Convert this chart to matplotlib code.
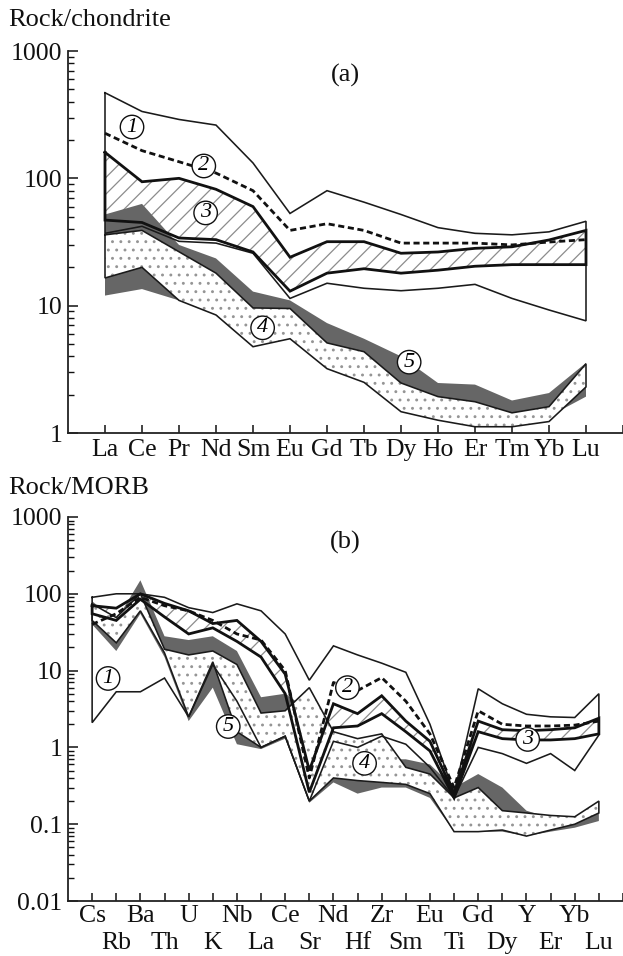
import numpy as np
import matplotlib
matplotlib.use('Agg')
import matplotlib.pyplot as plt
from matplotlib.ticker import FixedLocator, FixedFormatter, LogLocator, NullFormatter

plt.rcParams['font.family'] = ['Liberation Serif', 'DejaVu Serif']
plt.rcParams['hatch.linewidth'] = 0.9

# ---------------- panel (a): chondrite-normalised REE ----------------
ree = ['La', 'Ce', 'Pr', 'Nd', 'Sm', 'Eu', 'Gd', 'Tb', 'Dy', 'Ho', 'Er', 'Tm', 'Yb', 'Lu']
a_f1_up = [470, 335, 290, 262, 132, 53, 80, 65, 52, 41, 37, 36, 38, 46]
a_f1_lo = [37, 42, 32, 31, 25.8, 11.4, 15, 13.7, 13.1, 13.7, 14.7, 11.4, 9.25, 7.6]
a_f2 = [226, 165, 135, 110, 80, 39, 44, 39, 31, 31, 31, 30, 31.6, 33]
a_f3_up = [160, 94, 100, 82, 60, 24, 31.8, 31.8, 25.8, 26.4, 28.2, 29, 32.8, 39]
a_f3_lo = [47, 45, 34, 33, 26.4, 13, 18, 19.5, 18, 19, 20.4, 21, 21, 21]
a_f4_up = [36, 39, 26.5, 18, 9.6, 9.5, 5.1, 4.35, 2.47, 1.93, 1.76, 1.44, 1.61, 3.5]
a_f4_lo = [16.5, 20, 11, 8.45, 4.76, 5.5, 3.2, 2.5, 1.47, 1.26, 1.12, 1.12, 1.23, 2.3]
a_f5_up = [52, 63, 30, 23.5, 12.9, 11, 7.3, 5.5, 4.0, 2.47, 2.4, 1.8, 2.06, 3.55]
a_f5_lo = [12, 13.5, 11, 8.5, 5, 5.5, 3.5, 2.8, 1.7, 1.4, 1.3, 1.25, 1.35, 1.93]
a_lab_x = [0.73, 2.67, 2.72, 4.26, 8.22]
a_lab_y = [253, 125, 53.5, 6.7, 3.6]

# ---------------- panel (b): MORB-normalised spidergram ----------------
spider = ['Cs', 'Rb', 'Ba', 'Th', 'U', 'K', 'Nb', 'La', 'Ce', 'Sr', 'Nd',
          'Hf', 'Zr', 'Sm', 'Eu', 'Ti', 'Gd', 'Dy', 'Y', 'Er', 'Yb', 'Lu']
b_f1_up = [90, 100, 100, 90, 66, 57, 74, 60, 30, 7.5, 21, 16, 12.5, 9.5, 2.0, 0.25, 5.8, 3.7, 2.7, 2.5, 2.45, 5.0]
b_f1_lo = [2.1, 5.3, 5.3, 8, 2.5, 12, 4, 1.0, 1.4, 0.2, 1.2, 1.0, 1.4, 1.1, 0.55, 0.22, 1.0, 0.83, 0.62, 0.83, 0.5, 1.45]
b_f2 = [40, 55, 90, 70, 60, 45, 30, 25, 10, 0.4, 7, 5.5, 8.1, 4, 1.5, 0.3, 3.0, 2.0, 1.9, 1.9, 1.95, 2.2]
b_f3_up = [70, 65, 100, 75, 60, 41, 45, 24, 9, 0.5, 3.7, 2.75, 4.7, 2.2, 1.2, 0.25, 2.2, 1.7, 1.65, 1.7, 1.8, 2.4]
b_f3_lo = [55, 45, 85, 50, 30, 36, 24, 15, 5, 0.26, 1.8, 1.9, 2.75, 1.6, 0.9, 0.22, 1.6, 1.3, 1.25, 1.25, 1.3, 1.5]
b_f4_up = [74, 49, 100, 19, 16, 18, 12, 2.8, 3.0, 6, 1.6, 1.3, 1.5, 0.55, 0.45, 0.22, 0.3, 0.15, 0.14, 0.13, 0.125, 0.2]
b_f4_lo = [45, 23, 60, 17, 2.5, 13, 1.6, 1.0, 1.4, 0.2, 0.4, 0.37, 0.35, 0.33, 0.25, 0.08, 0.08, 0.084, 0.07, 0.084, 0.1, 0.14]
b_f5_up = [80, 45, 150, 28, 25, 28, 18, 4.5, 5, 3, 1.0, 0.5, 0.7, 0.7, 0.6, 0.3, 0.45, 0.3, 0.15, 0.12, 0.12, 0.2]
b_f5_lo = [40, 18, 55, 15, 2.2, 6, 1.1, 0.95, 1.3, 0.19, 0.35, 0.25, 0.3, 0.3, 0.22, 0.08, 0.08, 0.08, 0.07, 0.08, 0.09, 0.11]
b_lab_x = [0.66, 10.58, 18.05, 11.29, 5.64]
b_lab_y = [7.9, 6.0, 1.27, 0.62, 1.87]

labels = ['1', '2', '3', '4', '5']

FS = 19
TFS = 18.5
W, H = 623, 956
fig = plt.figure(figsize=(W / 100, H / 100), dpi=100)
axa = fig.add_axes([68 / W, 1 - 433 / H, (W - 68) / W, (433 - 51) / H])
axb = fig.add_axes([68 / W, 1 - 901 / H, (W - 68) / W, (901 - 517) / H])


def outline(ax, x, up, lo, **kw):
    xs = np.concatenate([x, x[::-1], [x[0]]])
    ys = np.concatenate([np.asarray(up, float), np.asarray(lo, float)[::-1], [up[0]]])
    ax.plot(xs, ys, solid_joinstyle='miter', **kw)


def draw_fields(ax, f1u, f1l, f2, f3u, f3l, f4u, f4l, f5u, f5l):
    x = np.arange(len(f1u))
    ax.fill_between(x, f3l, f3u, facecolor='none', edgecolor='#8c8c8c',
                    hatch='//', linewidth=0, zorder=1)
    ax.fill_between(x, f5l, f5u, facecolor='#666666', edgecolor='none',
                    linewidth=0, zorder=2)
    ax.fill_between(x, f4l, f4u, facecolor='white', edgecolor='none',
                    linewidth=0, zorder=3)
    ax.fill_between(x, f4l, f4u, facecolor='none', edgecolor='#959595',
                    hatch='..', linewidth=0, zorder=3.1)
    outline(ax, x, f4u, f4l, color='#1a1a1a', lw=1.15, zorder=4)
    outline(ax, x, f1u, f1l, color='#1a1a1a', lw=1.15, zorder=5)
    outline(ax, x, f3u, f3l, color='#111111', lw=2.0, zorder=5)
    ax.plot(x, f2, color='#111111', lw=2.0, dashes=(2.2, 1.3), zorder=6)


def style(ax, n, ymin, ymax, yticks, ylabels):
    ax.set_yscale('log')
    ax.set_ylim(ymin, ymax)
    ax.set_xlim(-1, n)
    for s in ['top', 'right']:
        ax.spines[s].set_visible(False)
    for s in ['left', 'bottom']:
        ax.spines[s].set_linewidth(1.3)
        ax.spines[s].set_color('#222222')
    ax.yaxis.set_major_locator(FixedLocator(yticks))
    ax.yaxis.set_major_formatter(FixedFormatter(ylabels))
    ax.yaxis.set_minor_locator(LogLocator(base=10, subs=np.arange(2, 10), numticks=20))
    ax.yaxis.set_minor_formatter(NullFormatter())
    ax.tick_params(axis='y', which='major', direction='in', length=7, width=1.1,
                   labelsize=TFS, pad=4, colors='#111111')
    ax.tick_params(axis='y', which='minor', direction='in', length=4, width=1.0,
                   colors='#111111')


def circ_labels(ax, xs, ys):
    for lx, ly, t in zip(xs, ys, labels):
        ax.text(lx, ly, t, fontsize=16, style='italic', ha='center', va='center',
                zorder=8,
                bbox=dict(boxstyle='circle,pad=0.1', facecolor='white',
                          edgecolor='#111111', linewidth=1.0))


# ---- panel a ----
draw_fields(axa, a_f1_up, a_f1_lo, a_f2, a_f3_up, a_f3_lo, a_f4_up, a_f4_lo, a_f5_up, a_f5_lo)
style(axa, len(ree), 1, 1000, [1, 10, 100, 1000], ['1', '10', '100', '1000'])
axa.xaxis.set_major_locator(FixedLocator(list(range(len(ree) + 1))))
axa.xaxis.set_major_formatter(FixedFormatter(ree + ['']))
axa.tick_params(axis='x', which='major', direction='in', length=6, width=1.1,
                labelsize=TFS, pad=4, colors='#111111')
circ_labels(axa, a_lab_x, a_lab_y)

# ---- panel b ----
draw_fields(axb, b_f1_up, b_f1_lo, b_f2, b_f3_up, b_f3_lo, b_f4_up, b_f4_lo, b_f5_up, b_f5_lo)
style(axb, len(spider), 0.01, 1000, [0.01, 0.1, 1, 10, 100, 1000],
      ['0.01', '0.1', '1', '10', '100', '1000'])
ev = list(range(0, len(spider) + 1, 2))
od = list(range(1, len(spider), 2))
axb.xaxis.set_major_locator(FixedLocator(ev))
axb.xaxis.set_major_formatter(FixedFormatter([spider[i] if i < len(spider) else '' for i in ev]))
axb.xaxis.set_minor_locator(FixedLocator(od))
axb.xaxis.set_minor_formatter(FixedFormatter([spider[i] for i in od]))
axb.tick_params(axis='x', which='major', direction='in', length=6, width=1.1,
                labelsize=TFS, pad=3, colors='#111111')
axb.tick_params(axis='x', which='minor', direction='in', length=6, width=1.1,
                labelsize=TFS, pad=22, colors='#111111')
circ_labels(axb, b_lab_x, b_lab_y)

fig.text(8 / W, 1 - 20 / H, 'Rock/chondrite', fontsize=FS, ha='left', va='center', color='#111111')
fig.text(345 / W, 1 - 75 / H, '(a)', fontsize=FS, ha='center', va='center', color='#111111')
fig.text(8 / W, 1 - 488 / H, 'Rock/MORB', fontsize=FS, ha='left', va='center', color='#111111')
fig.text(345 / W, 1 - 542 / H, '(b)', fontsize=FS, ha='center', va='center', color='#111111')

fig.savefig('out.png', dpi=100, facecolor='white')
